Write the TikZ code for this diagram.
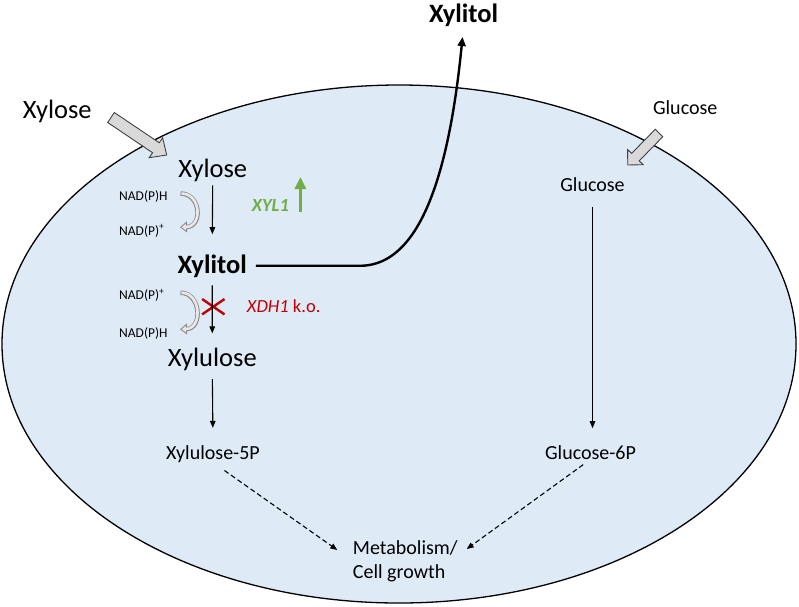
\documentclass[tikz,border=0pt]{standalone}
\usepackage{fontspec}
\setmainfont{Carlito}
\usetikzlibrary{arrows.meta,calc,shapes.misc}
\definecolor{cellblue}{RGB}{222,235,247}
\definecolor{blockgray}{RGB}{217,217,217}
\definecolor{upgreen}{RGB}{112,173,71}
\definecolor{kored}{RGB}{192,0,0}
\definecolor{cofouter}{RGB}{140,140,140}
\definecolor{cofinner}{RGB}{232,232,232}
\tikzset{
  big-label/.style={font=\fontsize{26.5}{30}\selectfont, inner sep=0pt},
  mid-label/.style={font=\fontsize{20}{24}\selectfont, inner sep=0pt},
  cof-label/.style={font=\fontsize{13.5}{16}\selectfont, inner sep=0pt},
  gene-label/.style={font=\fontsize{18.5}{22}\selectfont, inner sep=0pt},
  flow-arrow/.style={-{Triangle[length=7pt,width=5.5pt]}, line width=1.1pt},
  dash-arrow/.style={flow-arrow, dash pattern=on 5pt off 3pt},
  export-arrow/.style={-{Triangle[length=9pt,width=8pt]}, line width=2.4pt},
  up-arrow/.style={-{Triangle[length=12pt,width=11pt]}, line width=3.5pt, draw=upgreen},
  cof-outer/.style={-{Triangle[length=7pt,width=11pt,fill=cofinner,line width=0.9pt]},
    line width=4.5pt, draw=cofouter},
  cof-inner/.style={line width=2.6pt, draw=cofinner, shorten >=6pt, shorten <=0.9pt},
  block-arrow/.style={fill=blockgray, draw=black!75, line width=0.9pt, line join=miter},
  cell/.style={fill=cellblue, draw=black, line width=1.3pt}
}
% fat grey arrow from #1 to #2 (shaft half width #3, head half width #4, head length #5)
\newcommand\inflow[5]{%
  \coordinate (hb) at ($(#2)!#5!(#1)$);
  \draw[block-arrow] ($(#1)!#3!90:(#2)$) -- ($(hb)!#3!-90:(#1)$) -- ($(hb)!#4!-90:(#1)$)
    -- (#2) -- ($(hb)!#4!90:(#1)$) -- ($(hb)!#3!90:(#1)$) -- ($(#1)!#3!-90:(#2)$) -- cycle;}

\begin{document}
\begin{tikzpicture}[x=1pt,y=-1pt]
\useasboundingbox (0,0) rectangle (799,606);

% cell
\draw[cell] (399,344) ellipse [x radius=397, y radius=259];

% uptake
\coordinate (xyl-tail) at (111,117.5);
\coordinate (xyl-tip) at (166.7,155);
\inflow{xyl-tail}{xyl-tip}{6pt}{12pt}{13pt}
\coordinate (glc-tail) at (659,133);
\coordinate (glc-tip) at (627.7,165);
\inflow{glc-tail}{glc-tip}{5.3pt}{10.8pt}{11pt}

% labels
\node[big-label, anchor=base] (xylose-out) at (57.2,118) {Xylose};
\node[big-label, anchor=base] (xylose-in) at (212.7,177) {Xylose};
\node[big-label, anchor=base, font=\fontsize{26.5}{30}\selectfont\bfseries] (xylitol-in) at (212.2,273) {Xylitol};
\node[big-label, anchor=base] (xylulose) at (212.3,366.7) {Xylulose};
\node[big-label, anchor=base, font=\fontsize{26.5}{30}\selectfont\bfseries] (xylitol-out) at (463.5,22.7) {Xylitol};
\node[mid-label, anchor=base] (xylulose-5p) at (213,459) {Xylulose-5P};
\node[mid-label, anchor=base] (glucose-out) at (685.2,114.3) {Glucose};
\node[mid-label, anchor=base] (glucose-in) at (592.5,191) {Glucose};
\node[mid-label, anchor=base] (glucose-6p) at (590.5,459) {Glucose-6P};
\node[mid-label, anchor=west, align=left] (metab) at (352.7,561.5) {Metabolism/\\Cell growth};

% cofactors
\foreach \ta/\tb/\ya/\yb/\i in {NAD(P)H/NAD(P)\textsuperscript{+}/193.5/227.3/a,
                               NAD(P)\textsuperscript{+}/NAD(P)H/292.7/329.3/b}{
  \node[cof-label, anchor=base west] (cof-\i1) at (119,\ya+6.8) {\ta};
  \node[cof-label, anchor=base west] (cof-\i2) at (119,\yb+7.8) {\tb};
  \draw[cof-outer] (180.5,\ya) .. controls (201,\ya) and (203,\yb-1) .. (180,\yb);
  \draw[cof-inner] (180.5,\ya) .. controls (201,\ya) and (203,\yb-1) .. (180,\yb);
}

% genes
\node[gene-label, anchor=base west, text=upgreen, font=\fontsize{18.5}{22}\selectfont\bfseries\itshape] (xyl1) at (251.7,211.7) {XYL1};
\draw[up-arrow] ($(xyl1.base east)+(11.3,0.3)$) -- ++(0,-35);
\node[gene-label, anchor=base west, text=kored] (xdh1) at (246.7,312.3) {\textit{XDH1} k.o.};
\node[cross out, draw=kored, line width=2.4pt, inner sep=0pt, minimum width=20pt, minimum height=13pt] (ko-mark) at (213.3,306.7) {};

% pathway
\draw[flow-arrow, shorten <=4pt, shorten >=20pt] (xylose-in.south) -- (xylitol-in.north);
\draw[flow-arrow, shorten <=8pt, shorten >=14.7pt] (xylitol-in.south) -- (xylulose.north);
\draw[flow-arrow, shorten <=8pt, shorten >=17pt] (xylulose.south) -- (xylulose-5p.north);
\draw[flow-arrow, shorten <=16pt, shorten >=16.7pt] (glucose-in.south) -- (glucose-in.south |- glucose-6p.north);

% export
\draw[export-arrow, shorten <=9pt, shorten >=10pt] (xylitol-in.east) -- ++(113,0)
  .. controls ++(45,0) and (445,215) .. (xylitol-out.south);

% into metabolism
\coordinate (merge-l) at (337.3,550);
\coordinate (merge-r) at (466.7,549);
\draw[dash-arrow, shorten <=14pt] (xylulose-5p.south) -- (merge-l);
\draw[dash-arrow, shorten <=9pt] (glucose-6p.south) -- (merge-r);
\end{tikzpicture}
\end{document}
